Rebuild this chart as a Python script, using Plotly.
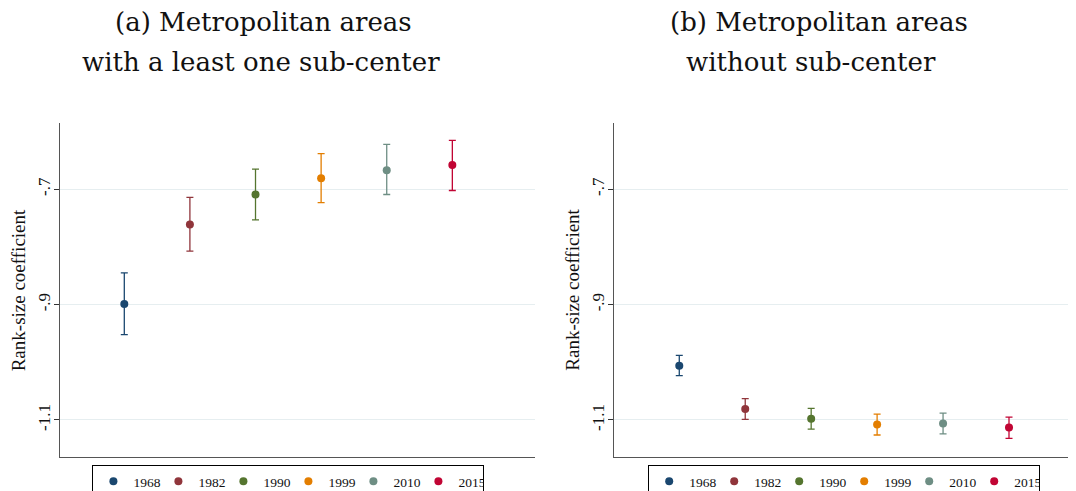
import plotly.graph_objects as go

# ---------------- data ----------------
years = ["1968", "1982", "1990", "1999", "2010", "2015"]
colors = ["#1a476f", "#90353b", "#55752f", "#e37e00", "#6e8e84", "#c10534"]

# Panel (a): metropolitan areas with at least one sub-center
a_coef = [-0.899, -0.761, -0.709, -0.681, -0.667, -0.658]
a_hi = [-0.845, -0.714, -0.665, -0.638, -0.622, -0.615]
a_lo = [-0.952, -0.807, -0.753, -0.723, -0.709, -0.702]

# Panel (b): metropolitan areas without sub-center
b_coef = [-1.006, -1.081, -1.098, -1.108, -1.106, -1.113]
b_hi = [-0.988, -1.063, -1.080, -1.090, -1.088, -1.095]
b_lo = [-1.023, -1.099, -1.116, -1.126, -1.124, -1.132]

ytick_vals = [-0.7, -0.9, -1.1]
ytick_text = ["-.7", "-.9", "-1.1"]
ytitle = "Rank-size coefficient"
title_a = ["(a) Metropolitan areas", "with a least one sub-center"]
title_b = ["(b) Metropolitan areas", "without sub-center"]

# ---------------- figure ----------------
# The page body has an 8px default margin, so the figure is 8px smaller
# and all reference pixel positions are shifted by 8px.
OFF = 8
W, H = 1076 - OFF, 491 - OFF
SERIF = "Liberation Serif, Times New Roman, serif"
TITLE_FONT = "DejaVu Serif, serif"

fig = go.Figure()

panels = [
    ("x", "y", "legend", a_coef, a_hi, a_lo),
    ("x2", "y2", "legend2", b_coef, b_hi, b_lo),
]
for xa, ya, leg, coef, hi, lo in panels:
    for i, yr in enumerate(years):
        fig.add_trace(go.Scatter(
            x=[i + 1], y=[coef[i]],
            xaxis=xa, yaxis=ya, legend=leg,
            mode="markers", name=yr,
            marker=dict(color=colors[i], size=8, symbol="circle"),
            error_y=dict(type="data", symmetric=False,
                         array=[hi[i] - coef[i]],
                         arrayminus=[coef[i] - lo[i]],
                         color=colors[i], thickness=1.3, width=3.5),
        ))


def px_x(p):
    return (p - OFF) / W


def px_y(p):
    return 1 - (p - OFF) / H


plot_top, plot_bot = 123.3, 457.3
ydom = [px_y(plot_bot), px_y(plot_top)]
yrange = [-1.1647, -0.5855]

axis_common = dict(showline=True, linecolor="#555555", linewidth=1.3, zeroline=False)
yaxis_common = dict(
    domain=ydom, range=yrange,
    tickvals=ytick_vals, ticktext=ytick_text, tickangle=-90,
    ticks="outside", ticklen=5, tickcolor="#333333", tickwidth=1,
    ticklabelstandoff=-3,
    showgrid=True, gridcolor="#e6eef0", gridwidth=1,
    tickfont=dict(family=SERIF, size=17, color="#111111"), **axis_common)
legend_common = dict(
    orientation="h", xanchor="center", y=px_y(465), yanchor="top",
    bordercolor="#000000", borderwidth=1, bgcolor="white",
    font=dict(family=SERIF, size=13.5, color="#111111"),
    itemclick=False, entrywidth=20)

fig.update_layout(
    width=W, height=H,
    margin=dict(l=0, r=0, t=0, b=0, autoexpand=False),
    paper_bgcolor="white", plot_bgcolor="white",
    showlegend=True,
    xaxis=dict(domain=[px_x(60), px_x(535)], range=[0.02, 7.26],
               showticklabels=False, ticks="", showgrid=False, anchor="y", **axis_common),
    xaxis2=dict(domain=[px_x(614), 1.0], range=[0.01, 7.016],
                showticklabels=False, ticks="", showgrid=False, anchor="y2", **axis_common),
    yaxis=dict(anchor="x", **yaxis_common),
    yaxis2=dict(anchor="x2", **yaxis_common),
    legend=dict(x=px_x(288.4), **legend_common),
    legend2=dict(x=px_x(844.2), **legend_common),
)

annotations = []
# panel titles
for lines, centers in ((title_a, (263.3, 261.3)), (title_b, (818.8, 810.8))):
    for k, (txt, cx) in enumerate(zip(lines, centers)):
        annotations.append(dict(
            text=txt, xref="paper", yref="paper",
            x=px_x(cx), y=px_y(22 + 40 * k), xanchor="center", yanchor="middle",
            showarrow=False, font=dict(family=TITLE_FONT, size=26, color="#111111")))
# y-axis titles
for cx in (18.3, 571.7):
    annotations.append(dict(
        text=ytitle, xref="paper", yref="paper",
        x=px_x(cx), y=px_y(290), xanchor="center", yanchor="middle",
        textangle=-90, showarrow=False,
        font=dict(family=SERIF, size=19, color="#111111")))
fig.update_layout(annotations=annotations)

fig.write_html("out.html")
